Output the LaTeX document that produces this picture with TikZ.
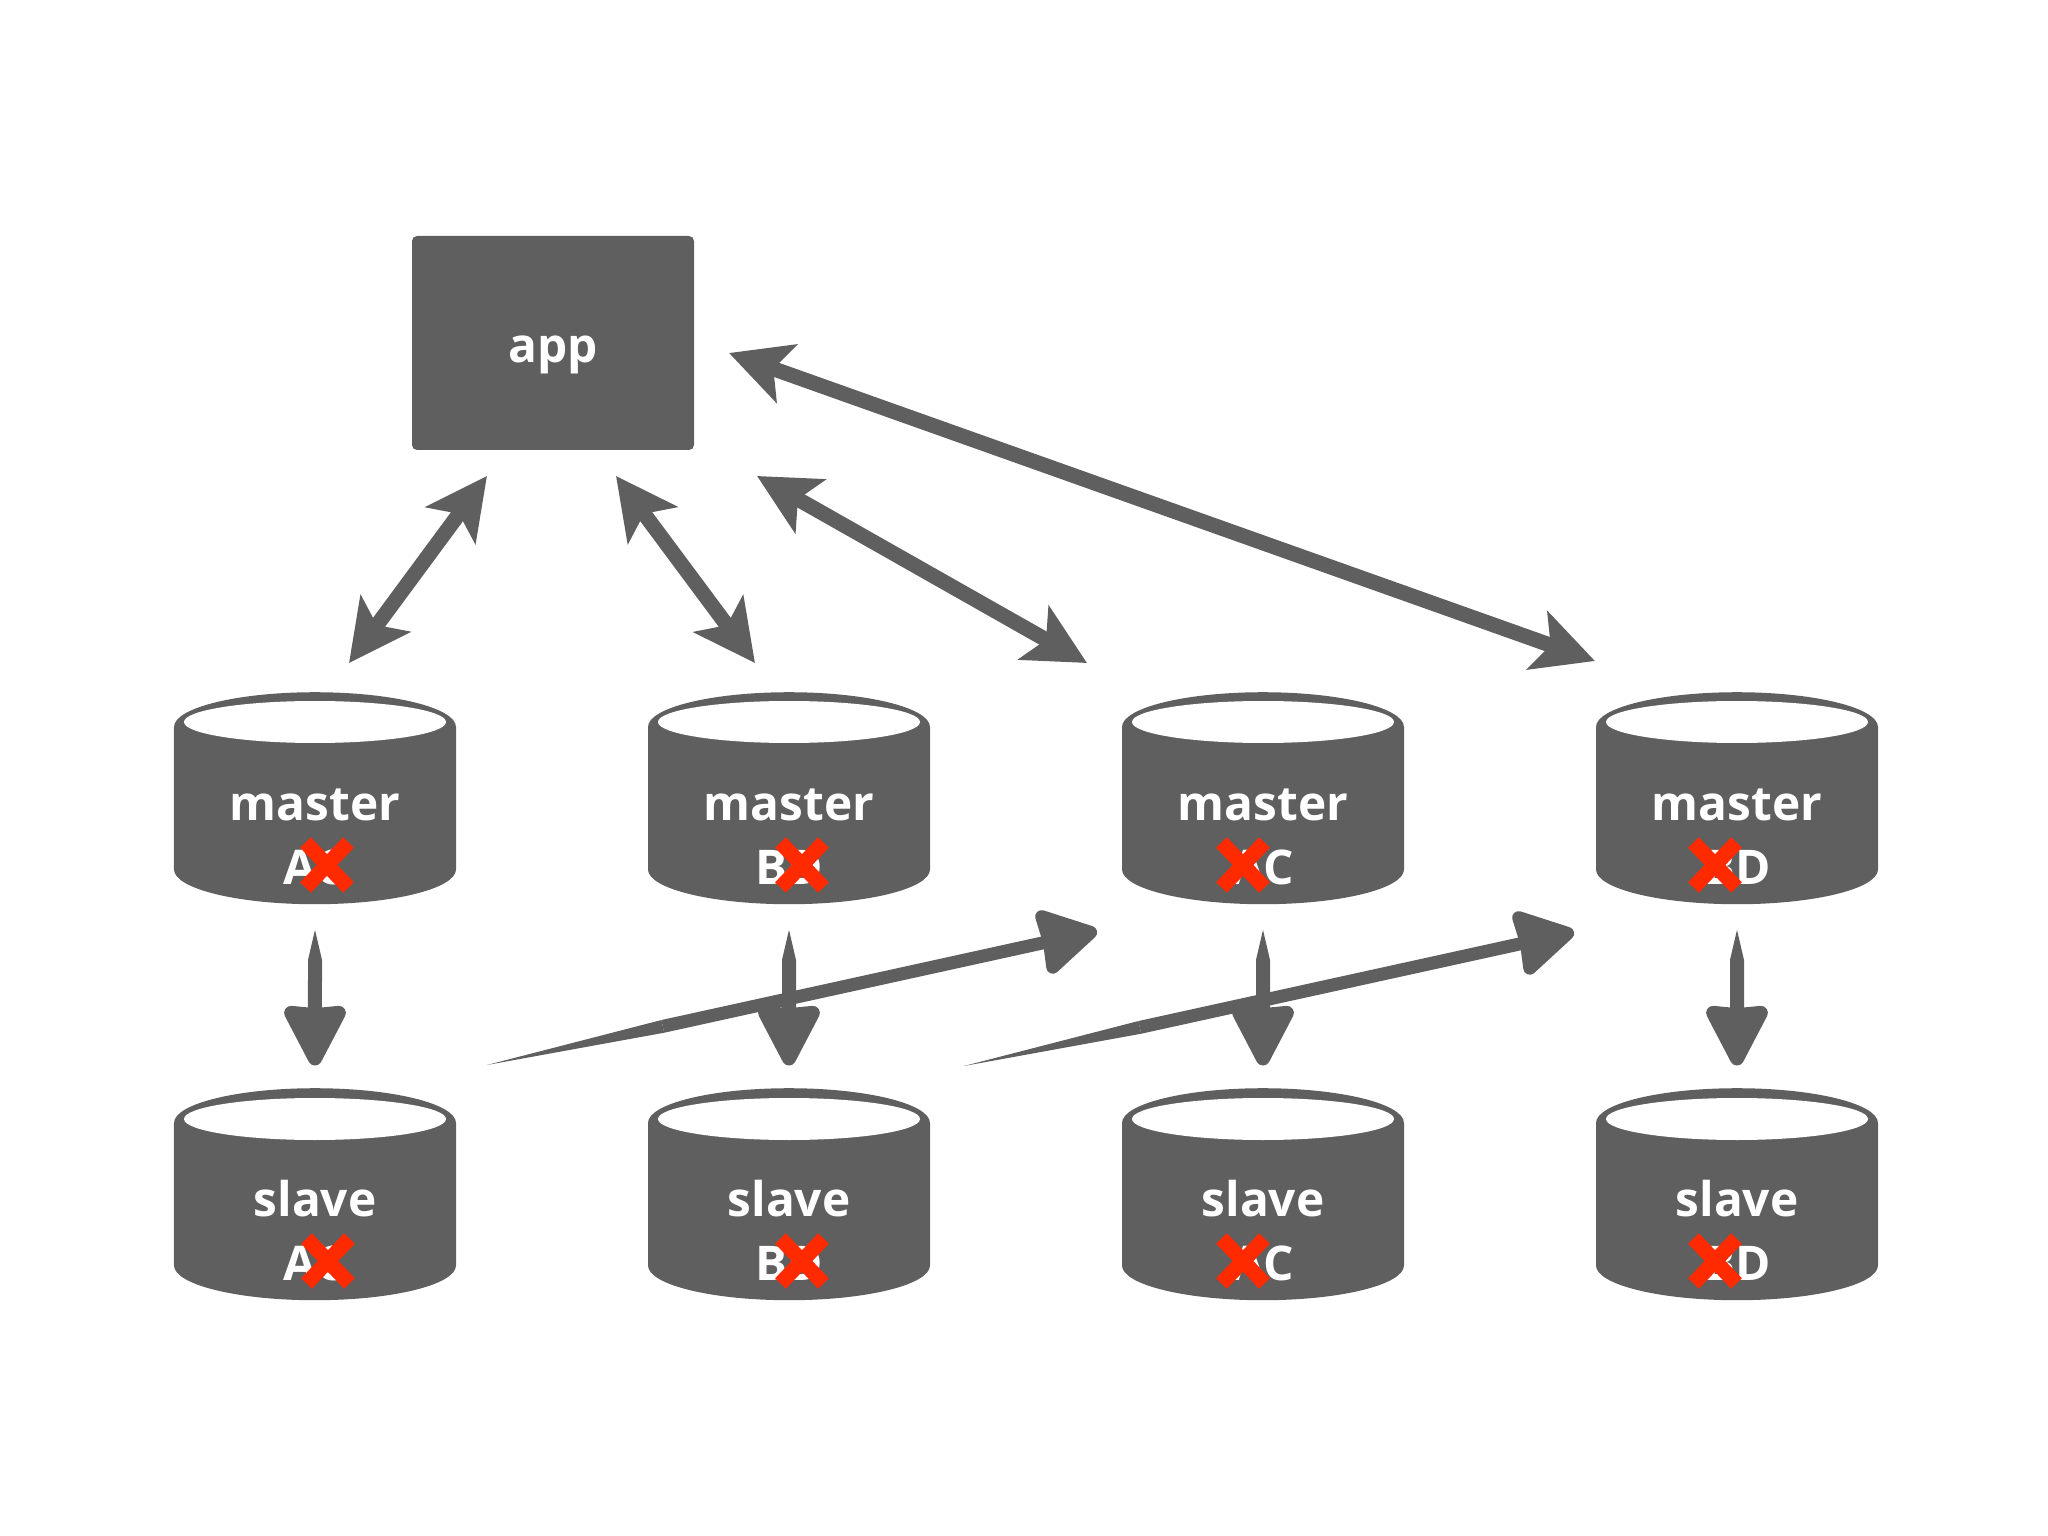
\documentclass[tikz,border=0pt]{standalone}
\usepackage{fontspec}
\setmainfont{Open Sans}
\usetikzlibrary{arrows.meta,shapes.geometric,shapes.misc}
\definecolor{dbgray}{HTML}{5F5F60}
\definecolor{xred}{HTML}{FF2A00}
\tikzset{
  dbbody/.style={cylinder, shape border rotate=90, aspect=0.41, draw=none, fill=dbgray,
    minimum width=2.82cm, minimum height=2.12cm, inner sep=0pt,
    text width=1.7cm, text height=.99cm, text depth=0pt},
  dbhole/.style={ellipse, fill=white, draw=none, minimum width=2.62cm, minimum height=.42cm, inner sep=0pt},
  dbtext/.style={text=white, inner sep=0pt, align=center, text height=.93cm, text depth=0pt,
    font=\fontsize{13.6}{18.1}\selectfont\bfseries},
  appbox/.style={rectangle, fill=dbgray, rounded corners=.05cm, text=white, minimum width=2.82cm,
    minimum height=2.14cm, inner sep=0pt, text height=.5cm,
    font=\fontsize{13.6}{18.1}\selectfont\bfseries},
  xmark/.style={cross out, draw=xred, line width=.15cm, minimum width=.28cm, minimum height=.3cm, inner sep=0pt},
  rw/.style={draw=dbgray, line width=.15cm, {Stealth[length=.61cm,width=.61cm,inset=.14cm]}-{Stealth[length=.61cm,width=.61cm,inset=.14cm]}},
  repl/.style={draw=dbgray, line width=.14cm, {Triangle[length=.3cm,width=.14cm,line width=0pt]}-{Stealth[length=.68cm,width=.68cm,inset=.02cm,round]}},
  sync/.style={draw=dbgray, line width=.13cm, {Triangle[length=1.8cm,width=.13cm,line width=0pt]}-{Stealth[length=.64cm,width=.72cm,inset=.02cm,round]}}
}
\begin{document}
\begin{tikzpicture}
  \useasboundingbox (0,0) rectangle (20.48,-15.36);
  % App
  \node[appbox] (app) at (5.53,-3.43) {app};

  % Masters
  \node[dbbody] (masterA) at (3.15,-8.16) {};
  \node[dbbody] (masterB) at (7.89,-8.16) {};
  \node[dbbody] (masterC) at (12.63,-8.16) {};
  \node[dbbody] (masterD) at (17.37,-8.16) {};
  \node[dbhole] (holeMA) at (3.15,-7.22) {};
  \node[dbhole] (holeMB) at (7.89,-7.22) {};
  \node[dbhole] (holeMC) at (12.63,-7.22) {};
  \node[dbhole] (holeMD) at (17.37,-7.22) {};
  \node[dbtext] (textMA) at (3.15,-8.375) {master\\AC};
  \node[dbtext] (textMB) at (7.89,-8.375) {master\\BD};
  \node[dbtext] (textMC) at (12.63,-8.375) {master\\AC};
  \node[dbtext] (textMD) at (17.37,-8.375) {master\\BD};

  % Slaves
  \node[dbbody] (slaveA) at (3.15,-12.12) {};
  \node[dbbody] (slaveB) at (7.89,-12.12) {};
  \node[dbbody] (slaveC) at (12.63,-12.12) {};
  \node[dbbody] (slaveD) at (17.37,-12.12) {};
  \node[dbhole] (holeSA) at (3.15,-11.19) {};
  \node[dbhole] (holeSB) at (7.89,-11.19) {};
  \node[dbhole] (holeSC) at (12.63,-11.19) {};
  \node[dbhole] (holeSD) at (17.37,-11.19) {};
  \node[dbtext] (textSA) at (3.15,-12.335) {slave\\AC};
  \node[dbtext] (textSB) at (7.89,-12.335) {slave\\BD};
  \node[dbtext] (textSC) at (12.63,-12.335) {slave\\AC};
  \node[dbtext] (textSD) at (17.37,-12.335) {slave\\BD};

  % Crossed out letters
  \node[xmark] (xMA) at (3.27,-8.65) {};
  \node[xmark] (xMB) at (8.02,-8.65) {};
  \node[xmark] (xMC) at (12.43,-8.65) {};
  \node[xmark] (xMD) at (17.15,-8.65) {};
  \node[xmark] (xSA) at (3.28,-12.61) {};
  \node[xmark] (xSB) at (8.02,-12.61) {};
  \node[xmark] (xSC) at (12.43,-12.61) {};
  \node[xmark] (xSD) at (17.15,-12.61) {};

  % End points of the arrows
  \coordinate (appA) at (4.87,-4.76);
  \coordinate (appB) at (6.16,-4.76);
  \coordinate (appC) at (7.57,-4.76);
  \coordinate (appD) at (7.29,-3.53);
  \coordinate (topA) at (3.49,-6.63);
  \coordinate (topB) at (7.55,-6.63);
  \coordinate (topC) at (10.87,-6.63);
  \coordinate (topD) at (15.95,-6.61);

  \draw[rw] (topA) -- (appA);
  \draw[rw] (topB) -- (appB);
  \draw[rw] (topC) -- (appC);
  \draw[rw] (topD) -- (appD);

  % Replication
  \draw[repl] ([yshift=-.25cm]masterA.south) -- ([yshift=.22cm]slaveA.north);
  \draw[repl] ([yshift=-.25cm]masterB.south) -- ([yshift=.22cm]slaveB.north);
  \draw[repl] ([yshift=-.25cm]masterC.south) -- ([yshift=.22cm]slaveC.north);
  \draw[repl] ([yshift=-.25cm]masterD.south) -- ([yshift=.22cm]slaveD.north);

  \coordinate (syncA) at (4.87,-10.65);
  \coordinate (syncB) at (9.64,-10.66);
  \coordinate (endC) at (10.97,-9.31);
  \coordinate (endD) at (15.74,-9.32);
  \draw[sync] (syncA) -- (endC);
  \draw[sync] (syncB) -- (endD);
\end{tikzpicture}
\end{document}
